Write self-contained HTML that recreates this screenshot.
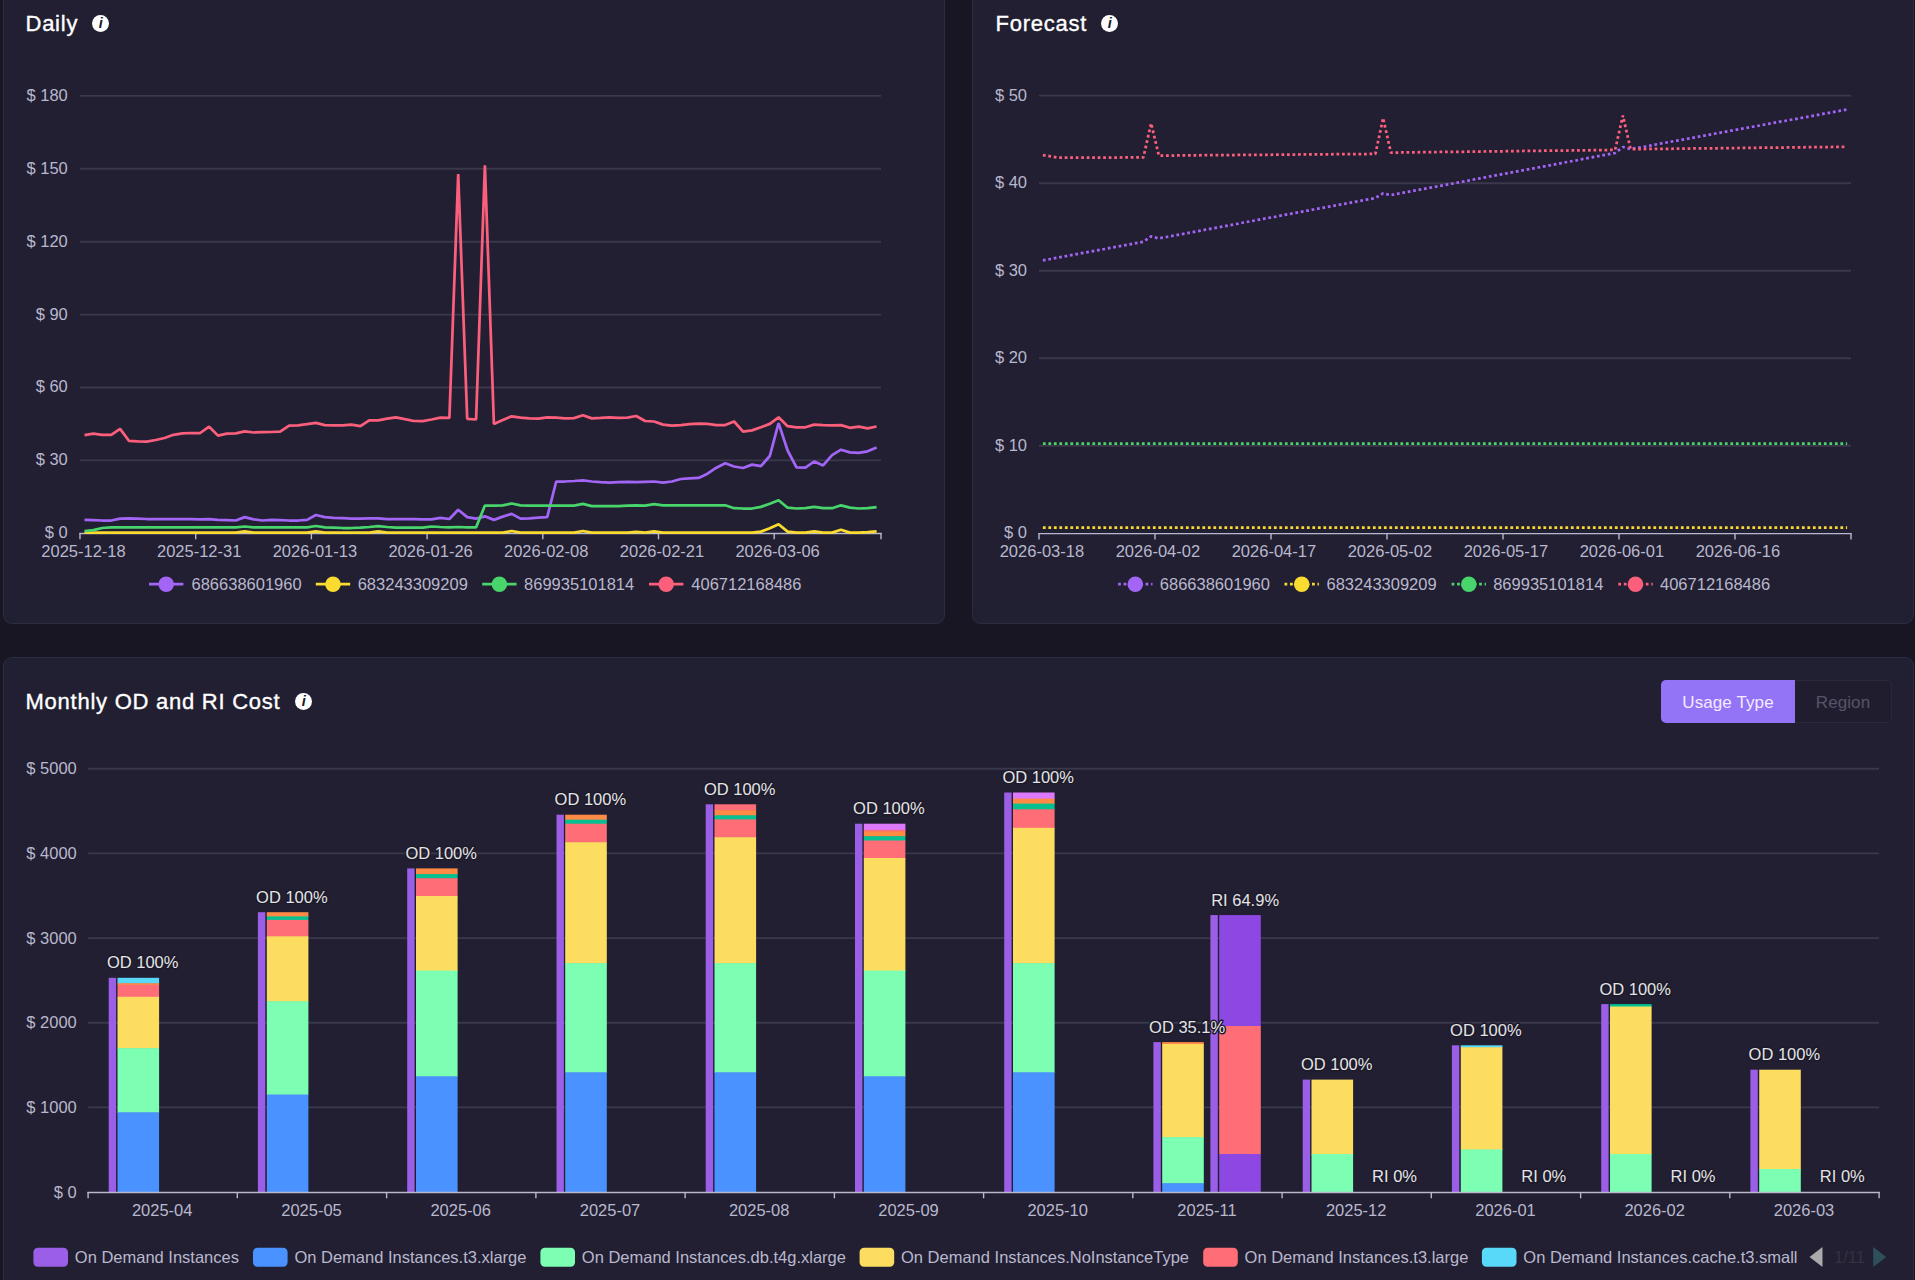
<!DOCTYPE html>
<html lang="en"><head><meta charset="utf-8"><title>Cost Dashboard</title>
<style>

html,body{margin:0;padding:0;width:1915px;height:1280px;overflow:hidden}
body{width:1915px;height:1280px;overflow:hidden;position:relative;background:#181623;font-family:"Liberation Sans", sans-serif;color:#fff}
.panel{position:absolute;margin:0;padding:0;background:#211f31;border:1px solid #2e2c40;border-radius:9px;box-sizing:border-box}
.panel h2{margin:0;font-weight:normal}
.title{position:absolute;font-size:22px;line-height:26px;letter-spacing:0.75px;color:#fff;white-space:nowrap;-webkit-text-stroke:0.35px #fff}
.info{position:absolute;width:16.9px;height:16.9px;border-radius:50%;background:#fff;color:#1a1828;font-family:"Liberation Sans",sans-serif;font-style:italic;font-weight:bold;font-size:14.5px;line-height:17.6px;text-align:center;text-indent:0.4px}
.seg{position:absolute;height:43px;margin:0;padding:0;box-sizing:border-box;font-family:inherit;font-size:17px;letter-spacing:0.1px;text-align:center;white-space:nowrap;border:0;cursor:pointer}
.seg.on{background:#9373f6;color:#f3ecff;border-radius:5px 0 0 5px;line-height:45.5px}
.seg.off{background:#201e2e;color:#57546a;border:1.4px solid #2b293b;border-left:none;border-radius:0 5px 5px 0;line-height:43.5px}
svg.chart{position:absolute;left:0;top:0;overflow:visible}
svg text{font-family:"Liberation Sans", sans-serif;font-size:16.5px;fill:#b9b8ce}

</style></head><body>
<main>
<section class="panel" id="daily" aria-label="Daily" style="left:3px;top:-30px;width:942px;height:654px;background:linear-gradient(to bottom,#211f31 0,#211f31 628px,#202033 650px)">
<h2 class="title" style="left:21.5px;top:40px">Daily</h2>
<span class="info" role="img" aria-label="info" style="left:88.2px;top:44.1px">i</span>
<svg class="chart" width="940" height="652" viewBox="4 -29 940 652">
<g id="daily-chart">
<text x="67.8" y="538.2" text-anchor="end">$ 0</text>
<line x1="80.0" y1="460.4" x2="881.0" y2="460.4" stroke="#3a384b" stroke-width="1.9"/>
<text x="67.8" y="465.3" text-anchor="end">$ 30</text>
<line x1="80.0" y1="387.5" x2="881.0" y2="387.5" stroke="#3a384b" stroke-width="1.9"/>
<text x="67.8" y="392.4" text-anchor="end">$ 60</text>
<line x1="80.0" y1="314.6" x2="881.0" y2="314.6" stroke="#3a384b" stroke-width="1.9"/>
<text x="67.8" y="319.5" text-anchor="end">$ 90</text>
<line x1="80.0" y1="241.7" x2="881.0" y2="241.7" stroke="#3a384b" stroke-width="1.9"/>
<text x="67.8" y="246.6" text-anchor="end">$ 120</text>
<line x1="80.0" y1="168.8" x2="881.0" y2="168.8" stroke="#3a384b" stroke-width="1.9"/>
<text x="67.8" y="173.7" text-anchor="end">$ 150</text>
<line x1="80.0" y1="95.9" x2="881.0" y2="95.9" stroke="#3a384b" stroke-width="1.9"/>
<text x="67.8" y="100.8" text-anchor="end">$ 180</text>
<line x1="79.3" y1="533.5" x2="881.7" y2="533.5" stroke="#b9b8ce" stroke-width="1.4"/>
<line x1="80.0" y1="533.3" x2="80.0" y2="539.3" stroke="#b9b8ce" stroke-width="1.4"/>
<line x1="195.7" y1="533.3" x2="195.7" y2="539.3" stroke="#b9b8ce" stroke-width="1.4"/>
<line x1="311.4" y1="533.3" x2="311.4" y2="539.3" stroke="#b9b8ce" stroke-width="1.4"/>
<line x1="427.1" y1="533.3" x2="427.1" y2="539.3" stroke="#b9b8ce" stroke-width="1.4"/>
<line x1="542.8" y1="533.3" x2="542.8" y2="539.3" stroke="#b9b8ce" stroke-width="1.4"/>
<line x1="658.5" y1="533.3" x2="658.5" y2="539.3" stroke="#b9b8ce" stroke-width="1.4"/>
<line x1="774.2" y1="533.3" x2="774.2" y2="539.3" stroke="#b9b8ce" stroke-width="1.4"/>
<line x1="881.0" y1="533.3" x2="881.0" y2="539.3" stroke="#b9b8ce" stroke-width="1.4"/>
<text x="83.5" y="556.5" text-anchor="middle">2025-12-18</text>
<text x="199.2" y="556.5" text-anchor="middle">2025-12-31</text>
<text x="314.9" y="556.5" text-anchor="middle">2026-01-13</text>
<text x="430.6" y="556.5" text-anchor="middle">2026-01-26</text>
<text x="546.2" y="556.5" text-anchor="middle">2026-02-08</text>
<text x="662.0" y="556.5" text-anchor="middle">2026-02-21</text>
<text x="777.6" y="556.5" text-anchor="middle">2026-03-06</text>
<polyline fill="none" stroke="#a265f5" stroke-width="2.75" stroke-linejoin="bevel" points="84.5,519.9 93.3,520.2 102.2,520.5 111.2,520.5 120.1,518.6 128.9,518.3 137.8,518.6 146.8,519.0 155.7,519.0 164.6,519.0 173.4,519.0 182.4,519.0 191.2,519.1 200.2,519.4 209.1,519.1 218.0,519.9 226.8,520.2 235.8,520.5 244.7,517.1 253.6,519.4 262.5,520.5 271.4,519.9 280.2,520.2 289.1,520.5 298.1,520.5 307.0,519.9 315.9,515.0 324.8,517.1 333.6,517.9 342.6,518.2 351.4,518.6 360.4,518.6 369.2,518.3 378.2,518.3 387.1,519.1 395.9,519.1 404.9,519.1 413.8,519.1 422.7,519.4 431.6,519.4 440.4,517.9 449.4,519.0 458.2,509.7 467.2,517.1 476.1,518.6 484.9,516.3 493.9,519.9 502.8,516.6 511.7,513.9 520.5,518.6 529.5,518.3 538.4,517.6 547.2,517.2 556.2,481.5 565.0,481.5 574.0,481.0 582.9,480.3 591.8,481.5 600.6,482.1 609.6,482.6 618.5,482.1 627.4,481.8 636.2,482.1 645.1,481.8 654.1,481.5 663.0,482.6 671.9,481.5 680.8,479.0 689.6,478.4 698.6,477.9 707.5,473.7 716.4,467.7 725.2,463.3 734.1,466.5 743.1,468.0 752.0,464.6 760.9,466.2 769.8,456.0 778.6,423.1 787.6,450.5 796.5,467.4 805.4,467.7 814.2,461.5 823.1,465.4 832.1,455.2 841.0,449.7 849.9,452.4 858.8,452.8 867.6,451.3 876.6,447.4"/>
<polyline fill="none" stroke="#fadb2f" stroke-width="2.75" stroke-linejoin="bevel" points="84.5,532.6 93.3,532.6 102.2,532.6 111.2,532.6 120.1,532.6 128.9,532.6 137.8,532.6 146.8,532.6 155.7,532.6 164.6,532.6 173.4,532.6 182.4,532.6 191.2,532.6 200.2,532.6 209.1,532.6 218.0,532.6 226.8,532.6 235.8,532.6 244.7,531.3 253.6,532.6 262.5,532.6 271.4,532.6 280.2,532.6 289.1,532.6 298.1,532.6 307.0,532.6 315.9,531.3 324.8,532.6 333.6,532.6 342.6,532.6 351.4,532.6 360.4,532.6 369.2,532.6 378.2,531.3 387.1,532.6 395.9,532.6 404.9,532.6 413.8,532.6 422.7,532.6 431.6,532.6 440.4,532.6 449.4,532.6 458.2,532.6 467.2,532.6 476.1,532.6 484.9,532.6 493.9,532.6 502.8,532.6 511.7,531.0 520.5,532.6 529.5,532.6 538.4,532.6 547.2,532.6 556.2,532.6 565.0,532.6 574.0,532.6 582.9,531.0 591.8,532.6 600.6,532.6 609.6,532.6 618.5,532.6 627.4,532.6 636.2,531.8 645.1,532.6 654.1,531.3 663.0,532.6 671.9,532.6 680.8,532.6 689.6,532.6 698.6,532.6 707.5,532.6 716.4,532.6 725.2,532.6 734.1,532.6 743.1,532.6 752.0,532.6 760.9,531.6 769.8,528.2 778.6,524.2 787.6,531.6 796.5,532.6 805.4,532.6 814.2,531.3 823.1,532.6 832.1,532.6 841.0,529.7 849.9,532.6 858.8,532.6 867.6,532.1 876.6,531.3"/>
<polyline fill="none" stroke="#48d56c" stroke-width="2.75" stroke-linejoin="bevel" points="84.5,531.2 93.3,530.1 102.2,528.0 111.2,527.3 120.1,527.3 128.9,527.3 137.8,527.3 146.8,527.3 155.7,527.3 164.6,527.3 173.4,527.3 182.4,527.3 191.2,527.3 200.2,527.3 209.1,527.3 218.0,527.4 226.8,527.4 235.8,527.4 244.7,526.5 253.6,527.4 262.5,527.4 271.4,527.4 280.2,527.4 289.1,527.4 298.1,527.4 307.0,527.3 315.9,526.0 324.8,527.3 333.6,527.6 342.6,528.0 351.4,528.0 360.4,527.6 369.2,527.0 378.2,526.2 387.1,527.0 395.9,527.6 404.9,527.6 413.8,527.6 422.7,527.6 431.6,526.5 440.4,527.0 449.4,527.3 458.2,527.0 467.2,527.3 476.1,527.3 484.9,505.6 493.9,505.6 502.8,505.3 511.7,503.5 520.5,505.3 529.5,505.6 538.4,505.6 547.2,505.6 556.2,505.6 565.0,505.6 574.0,505.6 582.9,503.8 591.8,506.1 600.6,506.1 609.6,506.1 618.5,506.1 627.4,505.6 636.2,505.3 645.1,505.6 654.1,504.2 663.0,505.3 671.9,505.3 680.8,505.3 689.6,505.3 698.6,505.3 707.5,505.3 716.4,505.3 725.2,505.3 734.1,508.2 743.1,508.5 752.0,508.5 760.9,506.9 769.8,503.8 778.6,500.3 787.6,507.7 796.5,508.5 805.4,508.2 814.2,506.9 823.1,508.2 832.1,508.2 841.0,505.3 849.9,507.7 858.8,508.5 867.6,508.2 876.6,507.2"/>
<polyline fill="none" stroke="#fb5f7c" stroke-width="2.75" stroke-linejoin="bevel" points="84.5,435.1 93.3,433.6 102.2,434.8 111.2,434.8 120.1,428.9 128.9,440.8 137.8,441.4 146.8,441.6 155.7,440.0 164.6,438.0 173.4,434.8 182.4,433.3 191.2,433.0 200.2,433.0 209.1,426.7 218.0,435.6 226.8,433.6 235.8,433.3 244.7,431.4 253.6,432.5 262.5,432.2 271.4,432.0 280.2,431.7 289.1,425.7 298.1,425.4 307.0,424.2 315.9,422.8 324.8,425.1 333.6,425.4 342.6,425.4 351.4,424.6 360.4,426.2 369.2,420.4 378.2,420.3 387.1,418.7 395.9,417.3 404.9,419.2 413.8,421.0 422.7,421.2 431.6,419.5 440.4,417.6 449.4,417.9 458.2,174.0 467.2,418.8 476.1,419.5 484.9,165.3 493.9,424.0 502.8,419.9 511.7,416.3 520.5,417.6 529.5,418.4 538.4,418.7 547.2,417.3 556.2,417.6 565.0,418.4 574.0,418.1 582.9,415.2 591.8,418.4 600.6,417.9 609.6,417.3 618.5,417.9 627.4,417.6 636.2,416.0 645.1,421.0 654.1,421.5 663.0,424.6 671.9,425.7 680.8,425.1 689.6,424.2 698.6,423.6 707.5,423.9 716.4,425.1 725.2,425.1 734.1,421.5 743.1,431.7 752.0,430.4 760.9,427.3 769.8,423.9 778.6,417.3 787.6,426.2 796.5,427.3 805.4,427.3 814.2,424.6 823.1,425.1 832.1,425.4 841.0,425.1 849.9,427.8 858.8,426.7 867.6,428.3 876.6,426.5"/>
<line x1="149.0" y1="584.2" x2="183.4" y2="584.2" stroke="#a265f5" stroke-width="2.75"/>
<circle cx="166.2" cy="584.2" r="7.8" fill="#a265f5"/>
<text x="191.5" y="589.9">686638601960</text>
<line x1="315.8" y1="584.2" x2="350.2" y2="584.2" stroke="#fadb2f" stroke-width="2.75"/>
<circle cx="333.0" cy="584.2" r="7.8" fill="#fadb2f"/>
<text x="357.7" y="589.9">683243309209</text>
<line x1="482.2" y1="584.2" x2="516.6" y2="584.2" stroke="#48d56c" stroke-width="2.75"/>
<circle cx="499.4" cy="584.2" r="7.8" fill="#48d56c"/>
<text x="524.1" y="589.9">869935101814</text>
<line x1="649.0" y1="584.2" x2="683.4" y2="584.2" stroke="#fb5f7c" stroke-width="2.75"/>
<circle cx="666.2" cy="584.2" r="7.8" fill="#fb5f7c"/>
<text x="691.3" y="589.9">406712168486</text>
</g>
</svg>
</section>
<section class="panel" id="forecast" aria-label="Forecast" style="left:972px;top:-30px;width:942px;height:654px;background:linear-gradient(to bottom,#211f31 0,#211f31 628px,#202033 650px)">
<h2 class="title" style="left:22.5px;top:40px">Forecast</h2>
<span class="info" role="img" aria-label="info" style="left:128.2px;top:44.1px">i</span>
<svg class="chart" width="940" height="652" viewBox="973 -29 940 652">
<g id="forecast-chart">
<text x="1027" y="538.3" text-anchor="end">$ 0</text>
<line x1="1039.0" y1="445.8" x2="1851.0" y2="445.8" stroke="#3a384b" stroke-width="1.9"/>
<text x="1027" y="450.7" text-anchor="end">$ 10</text>
<line x1="1039.0" y1="358.3" x2="1851.0" y2="358.3" stroke="#3a384b" stroke-width="1.9"/>
<text x="1027" y="363.2" text-anchor="end">$ 20</text>
<line x1="1039.0" y1="270.8" x2="1851.0" y2="270.8" stroke="#3a384b" stroke-width="1.9"/>
<text x="1027" y="275.6" text-anchor="end">$ 30</text>
<line x1="1039.0" y1="183.2" x2="1851.0" y2="183.2" stroke="#3a384b" stroke-width="1.9"/>
<text x="1027" y="188.1" text-anchor="end">$ 40</text>
<line x1="1039.0" y1="95.6" x2="1851.0" y2="95.6" stroke="#3a384b" stroke-width="1.9"/>
<text x="1027" y="100.5" text-anchor="end">$ 50</text>
<line x1="1038.3" y1="533.6" x2="1851.7" y2="533.6" stroke="#b9b8ce" stroke-width="1.4"/>
<line x1="1039.0" y1="533.4" x2="1039.0" y2="539.4" stroke="#b9b8ce" stroke-width="1.4"/>
<line x1="1155.0" y1="533.4" x2="1155.0" y2="539.4" stroke="#b9b8ce" stroke-width="1.4"/>
<line x1="1271.0" y1="533.4" x2="1271.0" y2="539.4" stroke="#b9b8ce" stroke-width="1.4"/>
<line x1="1387.0" y1="533.4" x2="1387.0" y2="539.4" stroke="#b9b8ce" stroke-width="1.4"/>
<line x1="1503.0" y1="533.4" x2="1503.0" y2="539.4" stroke="#b9b8ce" stroke-width="1.4"/>
<line x1="1619.0" y1="533.4" x2="1619.0" y2="539.4" stroke="#b9b8ce" stroke-width="1.4"/>
<line x1="1735.0" y1="533.4" x2="1735.0" y2="539.4" stroke="#b9b8ce" stroke-width="1.4"/>
<line x1="1851.0" y1="533.4" x2="1851.0" y2="539.4" stroke="#b9b8ce" stroke-width="1.4"/>
<text x="1041.9" y="556.6" text-anchor="middle">2026-03-18</text>
<text x="1157.9" y="556.6" text-anchor="middle">2026-04-02</text>
<text x="1273.9" y="556.6" text-anchor="middle">2026-04-17</text>
<text x="1389.9" y="556.6" text-anchor="middle">2026-05-02</text>
<text x="1505.9" y="556.6" text-anchor="middle">2026-05-17</text>
<text x="1621.9" y="556.6" text-anchor="middle">2026-06-01</text>
<text x="1737.9" y="556.6" text-anchor="middle">2026-06-16</text>
<polyline fill="none" stroke="#a265f5" stroke-width="2.75" stroke-dasharray="2.75 2.75" stroke-linejoin="bevel" points="1042.9,260.4 1050.6,259.0 1058.3,257.5 1066.1,256.1 1073.8,254.7 1081.5,253.2 1089.3,251.8 1097.0,250.4 1104.7,249.0 1112.5,247.5 1120.2,246.1 1127.9,244.7 1135.7,243.2 1143.4,241.8 1151.1,236.4 1158.9,238.4 1166.6,237.0 1174.3,235.5 1182.1,234.1 1189.8,232.6 1197.5,231.2 1205.3,229.7 1213.0,228.3 1220.7,226.9 1228.5,225.4 1236.2,224.0 1243.9,222.5 1251.7,221.1 1259.4,219.6 1267.1,218.2 1274.9,216.8 1282.6,215.3 1290.3,213.9 1298.1,212.4 1305.8,211.0 1313.5,209.5 1321.3,208.1 1329.0,206.7 1336.7,205.2 1344.5,203.8 1352.2,202.3 1359.9,200.9 1367.7,199.4 1375.4,198.0 1383.1,193.4 1390.9,195.1 1398.6,193.6 1406.3,192.2 1414.1,190.7 1421.8,189.3 1429.5,187.8 1437.3,186.4 1445.0,184.9 1452.7,183.5 1460.5,182.0 1468.2,180.6 1475.9,179.1 1483.7,177.7 1491.4,176.2 1499.1,174.8 1506.9,173.3 1514.6,171.9 1522.3,170.4 1530.1,169.0 1537.8,167.5 1545.5,166.1 1553.3,164.6 1561.0,163.2 1568.7,161.7 1576.5,160.3 1584.2,158.8 1591.9,157.4 1599.7,155.9 1607.4,154.5 1615.1,153.0 1622.9,147.0 1630.6,149.1 1638.3,147.7 1646.1,146.3 1653.8,144.9 1661.5,143.4 1669.3,142.0 1677.0,140.6 1684.7,139.2 1692.5,137.8 1700.2,136.4 1707.9,135.0 1715.7,133.5 1723.4,132.1 1731.1,130.7 1738.9,129.3 1746.6,127.9 1754.3,126.5 1762.1,125.1 1769.8,123.6 1777.5,122.2 1785.3,120.8 1793.0,119.4 1800.7,118.0 1808.5,116.6 1816.2,115.2 1823.9,113.7 1831.7,112.3 1839.4,110.9 1847.1,109.5"/>
<polyline fill="none" stroke="#fadb2f" stroke-width="2.75" stroke-dasharray="2.75 2.75" stroke-linejoin="bevel" points="1042.9,527.5 1050.6,527.5 1058.3,527.5 1066.1,527.5 1073.8,527.5 1081.5,527.5 1089.3,527.5 1097.0,527.5 1104.7,527.5 1112.5,527.5 1120.2,527.5 1127.9,527.5 1135.7,527.5 1143.4,527.5 1151.1,527.5 1158.9,527.5 1166.6,527.5 1174.3,527.5 1182.1,527.5 1189.8,527.5 1197.5,527.5 1205.3,527.5 1213.0,527.5 1220.7,527.5 1228.5,527.5 1236.2,527.5 1243.9,527.5 1251.7,527.5 1259.4,527.5 1267.1,527.5 1274.9,527.5 1282.6,527.5 1290.3,527.5 1298.1,527.5 1305.8,527.5 1313.5,527.5 1321.3,527.5 1329.0,527.5 1336.7,527.5 1344.5,527.5 1352.2,527.5 1359.9,527.5 1367.7,527.5 1375.4,527.5 1383.1,527.5 1390.9,527.5 1398.6,527.5 1406.3,527.5 1414.1,527.5 1421.8,527.5 1429.5,527.5 1437.3,527.5 1445.0,527.5 1452.7,527.5 1460.5,527.5 1468.2,527.5 1475.9,527.5 1483.7,527.5 1491.4,527.5 1499.1,527.5 1506.9,527.5 1514.6,527.5 1522.3,527.5 1530.1,527.5 1537.8,527.5 1545.5,527.5 1553.3,527.5 1561.0,527.5 1568.7,527.5 1576.5,527.5 1584.2,527.5 1591.9,527.5 1599.7,527.5 1607.4,527.5 1615.1,527.5 1622.9,527.5 1630.6,527.5 1638.3,527.5 1646.1,527.5 1653.8,527.5 1661.5,527.5 1669.3,527.5 1677.0,527.5 1684.7,527.5 1692.5,527.5 1700.2,527.5 1707.9,527.5 1715.7,527.5 1723.4,527.5 1731.1,527.5 1738.9,527.5 1746.6,527.5 1754.3,527.5 1762.1,527.5 1769.8,527.5 1777.5,527.5 1785.3,527.5 1793.0,527.5 1800.7,527.5 1808.5,527.5 1816.2,527.5 1823.9,527.5 1831.7,527.5 1839.4,527.5 1847.1,527.5"/>
<polyline fill="none" stroke="#48d56c" stroke-width="2.75" stroke-dasharray="2.75 2.75" stroke-linejoin="bevel" points="1042.9,443.7 1050.6,443.7 1058.3,443.7 1066.1,443.7 1073.8,443.7 1081.5,443.7 1089.3,443.7 1097.0,443.7 1104.7,443.7 1112.5,443.7 1120.2,443.7 1127.9,443.7 1135.7,443.7 1143.4,443.7 1151.1,443.7 1158.9,443.7 1166.6,443.7 1174.3,443.7 1182.1,443.7 1189.8,443.7 1197.5,443.7 1205.3,443.7 1213.0,443.7 1220.7,443.7 1228.5,443.7 1236.2,443.7 1243.9,443.7 1251.7,443.7 1259.4,443.7 1267.1,443.7 1274.9,443.7 1282.6,443.7 1290.3,443.7 1298.1,443.7 1305.8,443.7 1313.5,443.7 1321.3,443.7 1329.0,443.7 1336.7,443.7 1344.5,443.7 1352.2,443.7 1359.9,443.7 1367.7,443.7 1375.4,443.7 1383.1,443.7 1390.9,443.7 1398.6,443.7 1406.3,443.7 1414.1,443.7 1421.8,443.7 1429.5,443.7 1437.3,443.7 1445.0,443.7 1452.7,443.7 1460.5,443.7 1468.2,443.7 1475.9,443.7 1483.7,443.7 1491.4,443.7 1499.1,443.7 1506.9,443.7 1514.6,443.7 1522.3,443.7 1530.1,443.7 1537.8,443.7 1545.5,443.7 1553.3,443.7 1561.0,443.7 1568.7,443.7 1576.5,443.7 1584.2,443.7 1591.9,443.7 1599.7,443.7 1607.4,443.7 1615.1,443.7 1622.9,443.7 1630.6,443.7 1638.3,443.7 1646.1,443.7 1653.8,443.7 1661.5,443.7 1669.3,443.7 1677.0,443.7 1684.7,443.7 1692.5,443.7 1700.2,443.7 1707.9,443.7 1715.7,443.7 1723.4,443.7 1731.1,443.7 1738.9,443.7 1746.6,443.7 1754.3,443.7 1762.1,443.7 1769.8,443.7 1777.5,443.7 1785.3,443.7 1793.0,443.7 1800.7,443.7 1808.5,443.7 1816.2,443.7 1823.9,443.7 1831.7,443.7 1839.4,443.7 1847.1,443.7"/>
<polyline fill="none" stroke="#fb5f7c" stroke-width="2.75" stroke-dasharray="2.75 2.75" stroke-linejoin="bevel" points="1042.9,155.1 1050.6,156.3 1058.3,157.6 1066.1,157.6 1073.8,157.6 1081.5,157.5 1089.3,157.5 1097.0,157.5 1104.7,157.5 1112.5,157.5 1120.2,157.5 1127.9,157.4 1135.7,157.4 1143.4,157.4 1151.1,123.3 1158.9,155.6 1166.6,155.5 1174.3,155.5 1182.1,155.4 1189.8,155.4 1197.5,155.3 1205.3,155.2 1213.0,155.2 1220.7,155.1 1228.5,155.1 1236.2,155.0 1243.9,154.9 1251.7,154.9 1259.4,154.8 1267.1,154.8 1274.9,154.7 1282.6,154.6 1290.3,154.6 1298.1,154.5 1305.8,154.4 1313.5,154.4 1321.3,154.3 1329.0,154.3 1336.7,154.2 1344.5,154.1 1352.2,154.1 1359.9,154.0 1367.7,154.0 1375.4,153.9 1383.1,118.1 1390.9,152.6 1398.6,152.5 1406.3,152.4 1414.1,152.3 1421.8,152.2 1429.5,152.1 1437.3,152.0 1445.0,151.9 1452.7,151.9 1460.5,151.8 1468.2,151.7 1475.9,151.6 1483.7,151.5 1491.4,151.4 1499.1,151.3 1506.9,151.2 1514.6,151.1 1522.3,151.0 1530.1,150.9 1537.8,150.8 1545.5,150.7 1553.3,150.6 1561.0,150.6 1568.7,150.5 1576.5,150.4 1584.2,150.3 1591.9,150.2 1599.7,150.1 1607.4,150.0 1615.1,149.9 1622.9,115.5 1630.6,149.2 1638.3,149.1 1646.1,149.0 1653.8,148.9 1661.5,148.9 1669.3,148.8 1677.0,148.7 1684.7,148.6 1692.5,148.5 1700.2,148.4 1707.9,148.3 1715.7,148.3 1723.4,148.2 1731.1,148.1 1738.9,148.0 1746.6,147.9 1754.3,147.8 1762.1,147.7 1769.8,147.7 1777.5,147.6 1785.3,147.5 1793.0,147.4 1800.7,147.3 1808.5,147.2 1816.2,147.1 1823.9,147.1 1831.7,147.0 1839.4,146.9 1847.1,146.8"/>
<line x1="1118.1" y1="584.2" x2="1152.5" y2="584.2" stroke="#a265f5" stroke-width="2.75" stroke-dasharray="2.75 2.75"/>
<circle cx="1135.3" cy="584.2" r="7.8" fill="#a265f5"/>
<text x="1159.8" y="589.9">686638601960</text>
<line x1="1284.5" y1="584.2" x2="1318.9" y2="584.2" stroke="#fadb2f" stroke-width="2.75" stroke-dasharray="2.75 2.75"/>
<circle cx="1301.7" cy="584.2" r="7.8" fill="#fadb2f"/>
<text x="1326.5" y="589.9">683243309209</text>
<line x1="1451.6" y1="584.2" x2="1486.0" y2="584.2" stroke="#48d56c" stroke-width="2.75" stroke-dasharray="2.75 2.75"/>
<circle cx="1468.8" cy="584.2" r="7.8" fill="#48d56c"/>
<text x="1493.2" y="589.9">869935101814</text>
<line x1="1618.3" y1="584.2" x2="1652.7" y2="584.2" stroke="#fb5f7c" stroke-width="2.75" stroke-dasharray="2.75 2.75"/>
<circle cx="1635.5" cy="584.2" r="7.8" fill="#fb5f7c"/>
<text x="1660.0" y="589.9">406712168486</text>
</g>
</svg>
</section>
<section class="panel" id="monthly" aria-label="Monthly OD and RI Cost" style="left:3px;top:657px;width:1911px;height:623px;background:linear-gradient(to bottom,#202033 0,#202033 6px,#211f31 28px);border-bottom:0;border-radius:9px 9px 0 0">
<h2 class="title" style="left:21.5px;top:31px">Monthly OD and RI Cost</h2>
<span class="info" role="img" aria-label="info" style="left:291px;top:34.8px">i</span>
<div class="segmented" role="group">
<button type="button" class="seg on" style="left:1657px;top:22px;width:134px">Usage Type</button>
<button type="button" class="seg off" style="left:1791px;top:22px;width:97px">Region</button>
</div>
<svg class="chart" width="1909" height="621" viewBox="4 658 1909 621">
<g id="monthly-chart">
<text x="76.8" y="1197.5" text-anchor="end">$ 0</text>
<line x1="88.1" y1="1107.4" x2="1879.1" y2="1107.4" stroke="#3a384b" stroke-width="1.9"/>
<text x="76.8" y="1112.9" text-anchor="end">$ 1000</text>
<line x1="88.1" y1="1022.7" x2="1879.1" y2="1022.7" stroke="#3a384b" stroke-width="1.9"/>
<text x="76.8" y="1028.2" text-anchor="end">$ 2000</text>
<line x1="88.1" y1="938.1" x2="1879.1" y2="938.1" stroke="#3a384b" stroke-width="1.9"/>
<text x="76.8" y="943.6" text-anchor="end">$ 3000</text>
<line x1="88.1" y1="853.4" x2="1879.1" y2="853.4" stroke="#3a384b" stroke-width="1.9"/>
<text x="76.8" y="858.9" text-anchor="end">$ 4000</text>
<line x1="88.1" y1="768.8" x2="1879.1" y2="768.8" stroke="#3a384b" stroke-width="1.9"/>
<text x="76.8" y="774.3" text-anchor="end">$ 5000</text>
<rect x="108.7" y="977.8" width="7.4" height="214.2" fill="#9a5fe6"/>
<rect x="117.5" y="977.8" width="41.6" height="6.0" fill="#58d9f9"/>
<rect x="117.5" y="983.2" width="41.6" height="2.2" fill="#ff8a45"/>
<rect x="117.5" y="984.8" width="41.6" height="12.6" fill="#ff6e76"/>
<rect x="117.5" y="996.8" width="41.6" height="51.9" fill="#fddd60"/>
<rect x="117.5" y="1048.1" width="41.6" height="64.8" fill="#7cffb2"/>
<rect x="117.5" y="1112.3" width="41.6" height="79.7" fill="#4992ff"/>
<rect x="257.9" y="912.2" width="7.4" height="279.8" fill="#9a5fe6"/>
<rect x="266.8" y="912.2" width="41.6" height="4.8" fill="#ff8a45"/>
<rect x="266.8" y="916.4" width="41.6" height="4.1" fill="#05c091"/>
<rect x="266.8" y="919.9" width="41.6" height="17.0" fill="#ff6e76"/>
<rect x="266.8" y="936.3" width="41.6" height="65.5" fill="#fddd60"/>
<rect x="266.8" y="1001.2" width="41.6" height="93.9" fill="#7cffb2"/>
<rect x="266.8" y="1094.5" width="41.6" height="97.5" fill="#4992ff"/>
<rect x="407.2" y="868.4" width="7.4" height="323.6" fill="#9a5fe6"/>
<rect x="416.0" y="868.4" width="41.6" height="6.3" fill="#ff8a45"/>
<rect x="416.0" y="874.1" width="41.6" height="4.7" fill="#05c091"/>
<rect x="416.0" y="878.2" width="41.6" height="18.4" fill="#ff6e76"/>
<rect x="416.0" y="896.0" width="41.6" height="75.1" fill="#fddd60"/>
<rect x="416.0" y="970.5" width="41.6" height="106.4" fill="#7cffb2"/>
<rect x="416.0" y="1076.3" width="41.6" height="115.7" fill="#4992ff"/>
<rect x="556.5" y="814.7" width="7.4" height="377.3" fill="#9a5fe6"/>
<rect x="565.2" y="814.7" width="41.6" height="5.6" fill="#ff8a45"/>
<rect x="565.2" y="819.7" width="41.6" height="4.6" fill="#05c091"/>
<rect x="565.2" y="823.7" width="41.6" height="19.1" fill="#ff6e76"/>
<rect x="565.2" y="842.2" width="41.6" height="121.5" fill="#fddd60"/>
<rect x="565.2" y="963.1" width="41.6" height="109.8" fill="#7cffb2"/>
<rect x="565.2" y="1072.3" width="41.6" height="119.7" fill="#4992ff"/>
<rect x="705.7" y="804.3" width="7.4" height="387.7" fill="#9a5fe6"/>
<rect x="714.5" y="804.3" width="41.6" height="6.6" fill="#ff6e76"/>
<rect x="714.5" y="810.3" width="41.6" height="5.6" fill="#ff8a45"/>
<rect x="714.5" y="815.3" width="41.6" height="4.7" fill="#05c091"/>
<rect x="714.5" y="819.4" width="41.6" height="18.4" fill="#ff6e76"/>
<rect x="714.5" y="837.2" width="41.6" height="126.5" fill="#fddd60"/>
<rect x="714.5" y="963.1" width="41.6" height="109.8" fill="#7cffb2"/>
<rect x="714.5" y="1072.3" width="41.6" height="119.7" fill="#4992ff"/>
<rect x="855.0" y="823.7" width="7.4" height="368.3" fill="#9a5fe6"/>
<rect x="863.8" y="823.7" width="41.6" height="6.7" fill="#dd79ff"/>
<rect x="863.8" y="829.8" width="41.6" height="2.3" fill="#ff6e76"/>
<rect x="863.8" y="831.5" width="41.6" height="5.3" fill="#ff8a45"/>
<rect x="863.8" y="836.2" width="41.6" height="4.9" fill="#05c091"/>
<rect x="863.8" y="840.5" width="41.6" height="18.1" fill="#ff6e76"/>
<rect x="863.8" y="858.0" width="41.6" height="113.1" fill="#fddd60"/>
<rect x="863.8" y="970.5" width="41.6" height="106.4" fill="#7cffb2"/>
<rect x="863.8" y="1076.3" width="41.6" height="115.7" fill="#4992ff"/>
<rect x="1004.2" y="792.5" width="7.4" height="399.5" fill="#9a5fe6"/>
<rect x="1013.0" y="792.5" width="41.6" height="6.7" fill="#dd79ff"/>
<rect x="1013.0" y="798.6" width="41.6" height="5.6" fill="#ff8a45"/>
<rect x="1013.0" y="803.6" width="41.6" height="6.3" fill="#05c091"/>
<rect x="1013.0" y="809.3" width="41.6" height="19.1" fill="#ff6e76"/>
<rect x="1013.0" y="827.8" width="41.6" height="135.9" fill="#fddd60"/>
<rect x="1013.0" y="963.1" width="41.6" height="109.8" fill="#7cffb2"/>
<rect x="1013.0" y="1072.3" width="41.6" height="119.7" fill="#4992ff"/>
<rect x="1153.4" y="1042.1" width="7.4" height="149.9" fill="#9a5fe6"/>
<rect x="1162.2" y="1042.1" width="41.6" height="2.5" fill="#ff8a45"/>
<rect x="1162.2" y="1044.0" width="41.6" height="93.7" fill="#fddd60"/>
<rect x="1162.2" y="1137.1" width="41.6" height="46.7" fill="#7cffb2"/>
<rect x="1162.2" y="1183.2" width="41.6" height="8.8" fill="#4992ff"/>
<rect x="1210.4" y="915.1" width="7.4" height="276.9" fill="#9a5fe6"/>
<rect x="1219.2" y="915.1" width="41.6" height="111.5" fill="#8d48e3"/>
<rect x="1219.2" y="1026.0" width="41.6" height="128.6" fill="#ff6e76"/>
<rect x="1219.2" y="1154.0" width="41.6" height="38.0" fill="#8d48e3"/>
<rect x="1302.7" y="1079.6" width="7.4" height="112.4" fill="#9a5fe6"/>
<rect x="1311.5" y="1079.6" width="41.6" height="75.0" fill="#fddd60"/>
<rect x="1311.5" y="1154.0" width="41.6" height="38.0" fill="#7cffb2"/>
<rect x="1451.9" y="1045.3" width="7.4" height="146.7" fill="#9a5fe6"/>
<rect x="1460.8" y="1045.3" width="41.6" height="2.5" fill="#58d9f9"/>
<rect x="1460.8" y="1047.2" width="41.6" height="102.8" fill="#fddd60"/>
<rect x="1460.8" y="1149.4" width="41.6" height="42.6" fill="#7cffb2"/>
<rect x="1601.2" y="1004.1" width="7.4" height="187.9" fill="#9a5fe6"/>
<rect x="1610.0" y="1004.1" width="41.6" height="3.0" fill="#05c091"/>
<rect x="1610.0" y="1006.5" width="41.6" height="148.1" fill="#fddd60"/>
<rect x="1610.0" y="1154.0" width="41.6" height="38.0" fill="#7cffb2"/>
<rect x="1750.4" y="1069.7" width="7.4" height="122.3" fill="#9a5fe6"/>
<rect x="1759.2" y="1069.7" width="41.6" height="99.9" fill="#fddd60"/>
<rect x="1759.2" y="1169.0" width="41.6" height="23.0" fill="#7cffb2"/>
<line x1="87.4" y1="1192.5" x2="1879.8" y2="1192.5" stroke="#b9b8ce" stroke-width="1.4"/>
<line x1="88.1" y1="1192.0" x2="88.1" y2="1198.3" stroke="#b9b8ce" stroke-width="1.4"/>
<line x1="237.3" y1="1192.0" x2="237.3" y2="1198.3" stroke="#b9b8ce" stroke-width="1.4"/>
<line x1="386.6" y1="1192.0" x2="386.6" y2="1198.3" stroke="#b9b8ce" stroke-width="1.4"/>
<line x1="535.9" y1="1192.0" x2="535.9" y2="1198.3" stroke="#b9b8ce" stroke-width="1.4"/>
<line x1="685.1" y1="1192.0" x2="685.1" y2="1198.3" stroke="#b9b8ce" stroke-width="1.4"/>
<line x1="834.4" y1="1192.0" x2="834.4" y2="1198.3" stroke="#b9b8ce" stroke-width="1.4"/>
<line x1="983.6" y1="1192.0" x2="983.6" y2="1198.3" stroke="#b9b8ce" stroke-width="1.4"/>
<line x1="1132.8" y1="1192.0" x2="1132.8" y2="1198.3" stroke="#b9b8ce" stroke-width="1.4"/>
<line x1="1282.1" y1="1192.0" x2="1282.1" y2="1198.3" stroke="#b9b8ce" stroke-width="1.4"/>
<line x1="1431.3" y1="1192.0" x2="1431.3" y2="1198.3" stroke="#b9b8ce" stroke-width="1.4"/>
<line x1="1580.6" y1="1192.0" x2="1580.6" y2="1198.3" stroke="#b9b8ce" stroke-width="1.4"/>
<line x1="1729.8" y1="1192.0" x2="1729.8" y2="1198.3" stroke="#b9b8ce" stroke-width="1.4"/>
<line x1="1879.1" y1="1192.0" x2="1879.1" y2="1198.3" stroke="#b9b8ce" stroke-width="1.4"/>
<text x="162.2" y="1216.1" text-anchor="middle">2025-04</text>
<text x="311.5" y="1216.1" text-anchor="middle">2025-05</text>
<text x="460.7" y="1216.1" text-anchor="middle">2025-06</text>
<text x="610.0" y="1216.1" text-anchor="middle">2025-07</text>
<text x="759.2" y="1216.1" text-anchor="middle">2025-08</text>
<text x="908.5" y="1216.1" text-anchor="middle">2025-09</text>
<text x="1057.7" y="1216.1" text-anchor="middle">2025-10</text>
<text x="1207.0" y="1216.1" text-anchor="middle">2025-11</text>
<text x="1356.2" y="1216.1" text-anchor="middle">2025-12</text>
<text x="1505.5" y="1216.1" text-anchor="middle">2026-01</text>
<text x="1654.7" y="1216.1" text-anchor="middle">2026-02</text>
<text x="1804.0" y="1216.1" text-anchor="middle">2026-03</text>
<text x="106.9" y="968.3" stroke="#1c1a2a" stroke-width="2.8" stroke-linejoin="round" paint-order="stroke" style="fill:#e4e4e6">OD 100%</text>
<text x="256.1" y="902.7" stroke="#1c1a2a" stroke-width="2.8" stroke-linejoin="round" paint-order="stroke" style="fill:#e4e4e6">OD 100%</text>
<text x="405.4" y="858.9" stroke="#1c1a2a" stroke-width="2.8" stroke-linejoin="round" paint-order="stroke" style="fill:#e4e4e6">OD 100%</text>
<text x="554.6" y="805.2" stroke="#1c1a2a" stroke-width="2.8" stroke-linejoin="round" paint-order="stroke" style="fill:#e4e4e6">OD 100%</text>
<text x="703.9" y="794.8" stroke="#1c1a2a" stroke-width="2.8" stroke-linejoin="round" paint-order="stroke" style="fill:#e4e4e6">OD 100%</text>
<text x="853.1" y="814.2" stroke="#1c1a2a" stroke-width="2.8" stroke-linejoin="round" paint-order="stroke" style="fill:#e4e4e6">OD 100%</text>
<text x="1002.4" y="783.0" stroke="#1c1a2a" stroke-width="2.8" stroke-linejoin="round" paint-order="stroke" style="fill:#e4e4e6">OD 100%</text>
<text x="1211.2" y="905.5" stroke="#1c1a2a" stroke-width="2.8" stroke-linejoin="round" paint-order="stroke" style="fill:#e4e4e6">RI 64.9%</text>
<text x="1149.1" y="1032.6" stroke="#1c1a2a" stroke-width="2.8" stroke-linejoin="round" paint-order="stroke" style="fill:#e4e4e6">OD 35.1%</text>
<text x="1300.9" y="1070.1" stroke="#1c1a2a" stroke-width="2.8" stroke-linejoin="round" paint-order="stroke" style="fill:#e4e4e6">OD 100%</text>
<text x="1372.1" y="1182.0" stroke="#1c1a2a" stroke-width="2.8" stroke-linejoin="round" paint-order="stroke" style="fill:#e4e4e6">RI 0%</text>
<text x="1450.1" y="1035.8" stroke="#1c1a2a" stroke-width="2.8" stroke-linejoin="round" paint-order="stroke" style="fill:#e4e4e6">OD 100%</text>
<text x="1521.3" y="1182.0" stroke="#1c1a2a" stroke-width="2.8" stroke-linejoin="round" paint-order="stroke" style="fill:#e4e4e6">RI 0%</text>
<text x="1599.4" y="994.6" stroke="#1c1a2a" stroke-width="2.8" stroke-linejoin="round" paint-order="stroke" style="fill:#e4e4e6">OD 100%</text>
<text x="1670.6" y="1182.0" stroke="#1c1a2a" stroke-width="2.8" stroke-linejoin="round" paint-order="stroke" style="fill:#e4e4e6">RI 0%</text>
<text x="1748.6" y="1060.2" stroke="#1c1a2a" stroke-width="2.8" stroke-linejoin="round" paint-order="stroke" style="fill:#e4e4e6">OD 100%</text>
<text x="1819.8" y="1182.0" stroke="#1c1a2a" stroke-width="2.8" stroke-linejoin="round" paint-order="stroke" style="fill:#e4e4e6">RI 0%</text>
<clipPath id="lc"><rect x="0" y="1240" width="1797" height="40"/></clipPath>
<g clip-path="url(#lc)">
<rect x="33.4" y="1247.8" width="34.6" height="18.9" rx="4.5" fill="#9a5fe6"/>
<text x="74.8" y="1262.8">On Demand Instances</text>
<rect x="253.0" y="1247.8" width="34.6" height="18.9" rx="4.5" fill="#4992ff"/>
<text x="294.4" y="1262.8">On Demand Instances.t3.xlarge</text>
<rect x="540.4" y="1247.8" width="34.6" height="18.9" rx="4.5" fill="#7cffb2"/>
<text x="581.8" y="1262.8">On Demand Instances.db.t4g.xlarge</text>
<rect x="859.6" y="1247.8" width="34.6" height="18.9" rx="4.5" fill="#fddd60"/>
<text x="901.0" y="1262.8">On Demand Instances.NoInstanceType</text>
<rect x="1203.2" y="1247.8" width="34.6" height="18.9" rx="4.5" fill="#ff6e76"/>
<text x="1244.6" y="1262.8">On Demand Instances.t3.large</text>
<rect x="1481.9" y="1247.8" width="34.6" height="18.9" rx="4.5" fill="#58d9f9"/>
<text x="1523.3" y="1262.8">On Demand Instances.cache.t3.small</text>
</g>
<polygon points="1809.5,1257 1822.5,1247 1822.5,1267" fill="#aaaaaa"/>
<text x="1849.5" y="1262.8" text-anchor="middle" style="fill:#33323f">1/11</text>
<polygon points="1886.2,1257 1873.2,1247 1873.2,1267" fill="#2f4f5c"/>
</g>
</svg>
</section>
</main>
</body></html>
